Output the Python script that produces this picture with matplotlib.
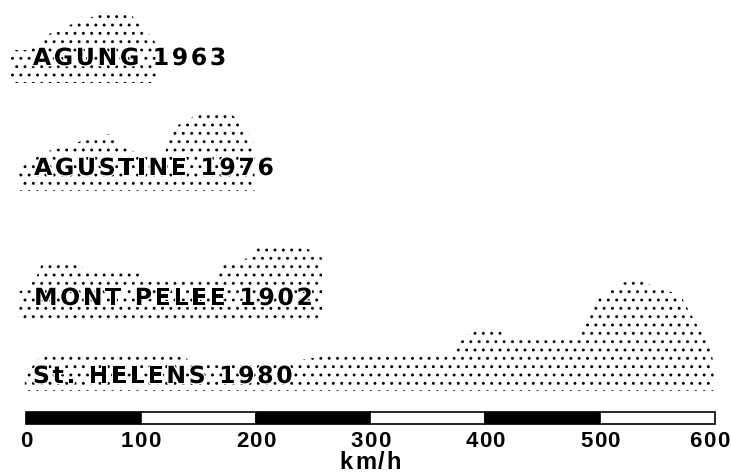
import matplotlib
matplotlib.use("Agg")
import matplotlib.pyplot as plt
import matplotlib.patheffects as pe
from matplotlib import font_manager
from matplotlib.ft2font import FT2Font
from matplotlib.transforms import offset_copy

plt.rcParams['hatch.color'] = 'black'
plt.rcParams['hatch.linewidth'] = 0.9

# eruptions, top to bottom
names = ['AGUNG 1963', 'AGUSTINE 1976', 'MONT PELEE 1902', 'St. HELENS 1980']

# speed (km/h) and relative height of each stippled profile
agung_v = [-14, 3.5, 12, 18, 38, 51, 64, 91, 99, 108, 114]
agung_h = [33, 33, 40, 48, 58, 63, 69, 69, 58, 48, 38]

agustine_v = [-7, 3.5, 16.5, 38, 56, 73, 82, 95, 121, 127, 138.5, 156, 178, 191, 199]
agustine_h = [21, 31, 39, 46, 53, 57, 46, 39, 38, 61, 71, 78, 78, 63, 46]

pelee_v = [-7, 8, 14, 47, 51, 99, 104, 165, 169.5, 195, 202, 239, 247, 258]
pelee_h = [27, 40, 57, 57, 48, 48, 38, 38, 57, 62, 75, 75, 70, 62]

helens_v = [-1, 12, 21, 38, 47, 82, 90.6, 134, 143, 186, 217, 239, 256, 278, 326,
            369, 378, 391, 408.5, 417, 483, 490, 500, 517.5, 535, 548, 570, 578,
            587, 596, 599]
helens_h = [16, 33, 39, 39, 34, 34, 37, 39, 29, 26, 28, 31, 34, 39, 39,
            38, 49, 64, 64, 56, 56, 79, 94, 108, 111, 104, 96, 79,
            61, 46, 26]

speeds = [agung_v, agustine_v, pelee_v, helens_v]
heights = [agung_h, agustine_h, pelee_h, helens_h]

scale_ticks = [0, 100, 200, 300, 400, 500, 600]
unit = 'km/h'

# layout (y in pixels from the top)
baselines = [83, 191, 320, 391]
label_x = [6, 7, 7, 6]
label_y = [65, 175, 305, 383]

fig = plt.figure(figsize=(7.31, 4.74), dpi=100)
ax = fig.add_axes([0, 0, 1, 1])
ax.set_xlim(-26 / 1.148, (731 - 26) / 1.148)
ax.set_ylim(474, 0)
ax.axis('off')

fonts = {}
for fam in ['DejaVu Sans', 'Liberation Sans']:
    fp = font_manager.FontProperties(family=fam, weight='bold')
    fonts[fam] = FT2Font(font_manager.findfont(fp))


def spaced_text(x, y, s, track, fam, size=16, ha='left', halo=False):
    f = fonts[fam]
    f.set_size(size, fig.dpi)
    adv = [f.load_char(ord(c)).linearHoriAdvance / 65536 for c in s]
    total = sum(adv) + track * (len(s) - 1)
    dx = 0 if ha == 'left' else -total / 2
    # keep the text inside the picture
    px = ax.transData.transform((x, y))[0]
    if px + dx + total > fig.bbox.width - 2:
        dx = fig.bbox.width - 2 - px - total
    for c, a in zip(s, adv):
        tr = offset_copy(ax.transData, fig=fig, x=dx, y=0, units='dots')
        t = ax.text(x, y, c, transform=tr, fontsize=size, fontfamily=fam,
                    fontweight='bold', va='baseline', ha='left', zorder=5)
        if halo:
            t.set_path_effects([pe.withStroke(linewidth=2, foreground='white')])
        dx += a + track


for i in range(len(names)):
    base = baselines[i]
    top = [base - h for h in heights[i]]
    ax.fill_between(speeds[i], top, base, facecolor='none', edgecolor='black',
                    hatch='..', linewidth=0)
    spaced_text(label_x[i], label_y[i], names[i], 2.6, 'DejaVu Sans', size=17, halo=True)

# scale bar
for i in range(len(scale_ticks) - 1):
    col = 'black' if i % 2 == 0 else 'white'
    ax.bar(scale_ticks[i], 12, width=scale_ticks[i + 1] - scale_ticks[i], bottom=412,
           align='edge', color=col, edgecolor='black', linewidth=1.2)

for t in scale_ticks:
    spaced_text(t, 447, str(t), 1.2, 'Liberation Sans', ha='center')

spaced_text(300, 469, unit, 2, 'Liberation Sans', size=17, ha='center')

fig.savefig('out.png', dpi=100)
